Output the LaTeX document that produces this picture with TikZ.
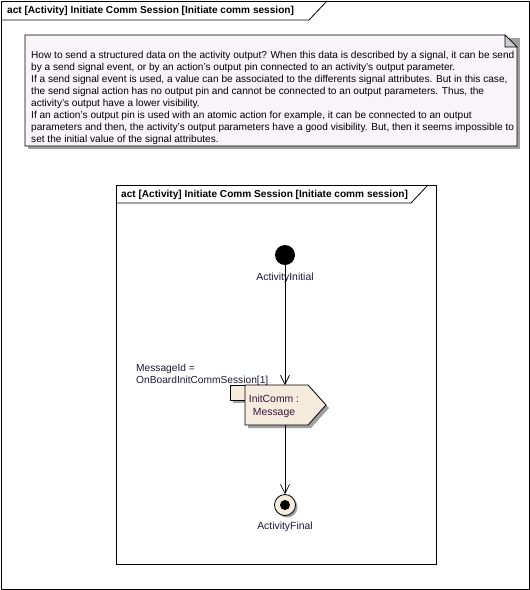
\documentclass[tikz,border=0pt]{standalone}
\usepackage{fontspec}
\setmainfont{Liberation Sans}
\usetikzlibrary{arrows.meta}
\definecolor{notefill}{RGB}{248,244,248}
\definecolor{actfill}{RGB}{246,236,222}
\definecolor{lblcol}{RGB}{25,25,60}
\definecolor{actcol}{RGB}{60,20,60}
\definecolor{shadowcol}{RGB}{160,160,160}
\tikzset{
  frame/.style={draw=black, line width=0.8pt},
  hdr/.style={font=\fontsize{10.1}{11}\selectfont\bfseries, anchor=west, inner sep=0pt},
  lbl/.style={font=\fontsize{10.4}{11}\selectfont, text=lblcol, inner sep=0pt},
  notetext/.style={font=\fontsize{10.1}{12}\selectfont, align=left, anchor=north west, inner sep=0pt},
  arr/.style={draw=black, line width=0.7pt, -{Straight Barb[length=9pt,width=9pt,line width=0.7pt]}},
  shadow/.style={fill=shadowcol, draw=none}
}
\begin{document}
\begin{tikzpicture}[x=1pt,y=-1pt]
\useasboundingbox (0,0) rectangle (530,590);
\fill[white] (0,0) rectangle (530,590);
% outer frame
\draw[frame] (1,1) rectangle (529,589);
\draw[frame] (1,20) -- (309,20) -- (327,1);
\node[hdr] (outerhdr) at (7,11) {act [Activity] Initiate Comm Session [Initiate comm session]};
% note
\fill[shadow] (28,38) -- (520,38) -- (520,149) -- (28,149) -- cycle;
\filldraw[fill=notefill, draw=black, line width=0.8pt] (25,35) -- (505,35) -- (517,47) -- (517,146) -- (25,146) -- cycle;
\filldraw[fill=black!20, draw=black, line width=0.6pt] (505,35) -- (505,47) -- (517,47) -- cycle;
\node[notetext] (note) at (31,51) {How to send a structured data on the activity output? When this data is described by a signal, it can be send\\
by a send signal event, or by an action's output pin connected to an activity's output parameter.\\
If a send signal event is used, a value can be associated to the differents signal attributes. But in this case,\\
the send signal action has no output pin and cannot be connected to an output parameters. Thus, the\\
activity's output have a lower visibility.\\
If an action's output pin is used with an atomic action for example, it can be connected to an output\\
parameters and then, the activity's output parameters have a good visibility. But, then it seems impossible to\\
set the initial value of the signal attributes.};
% inner frame
\draw[frame] (116,185) rectangle (436,564);
\draw[frame] (116,203) -- (411,203) -- (428,185);
\node[hdr] (innerhdr) at (121,195) {act [Activity] Initiate Comm Session [Initiate comm session]};
% initial node
\node[circle, fill=black, minimum size=20pt, inner sep=0pt] (init) at (285,255) {};
\node[lbl] (initlbl) at (285,278) {ActivityInitial};
% pin
\fill[shadow] (233,388) rectangle (248,403);
\filldraw[fill=actfill, draw=black, line width=0.8pt] (230,385) rectangle (245,400);
\node[lbl, anchor=west, align=left, font=\fontsize{10.2}{12}\selectfont] (pinlbl) at (136,375) {MessageId =\\OnBoardInitCommSession[1]};
% action (send signal)
\fill[shadow] (248,388) -- (311,388) -- (329,408) -- (311,428) -- (248,428) -- cycle;
\filldraw[fill=actfill, draw=black, line width=0.8pt] (245,385) -- (308,385) -- (326,405) -- (308,425) -- (245,425) -- cycle;
\coordinate (acttop) at (285,385);
\coordinate (actbot) at (285,425);
\node[font=\fontsize{10.4}{13}\selectfont, text=actcol, align=center, inner sep=0pt] (act) at (274,406) {InitComm :\\Message};
% final node
\fill[shadow] (287,507) circle (10.5pt);
\node[circle, draw=black, line width=0.8pt, fill=actfill, minimum size=21pt, inner sep=0pt] (final) at (285,505) {};
\fill[black] (final.center) circle (5pt);
\node[lbl] (finallbl) at (285,527) {ActivityFinal};
% edges
\draw[arr] (init.south) -- (acttop);
\draw[arr] (actbot) -- (final.north);
\end{tikzpicture}
\end{document}
